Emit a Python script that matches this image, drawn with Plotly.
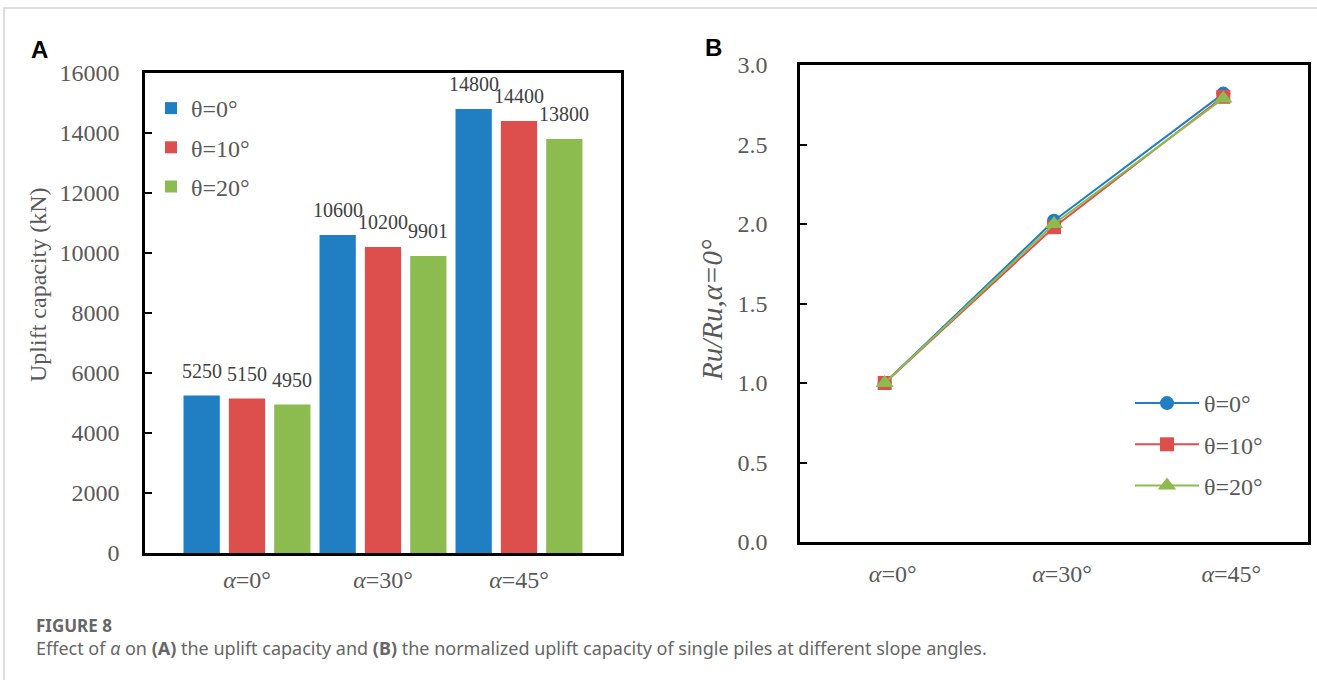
import plotly.graph_objects as go

# ---------------- data ----------------
categories = ["α=0°", "α=30°", "α=45°"]
tick_text = ["<i>α</i>=0°", "<i>α</i>=30°", "<i>α</i>=45°"]
series_names = ["θ=0°", "θ=10°", "θ=20°"]
uplift_theta0 = [5250, 10600, 14800]
uplift_theta10 = [5150, 10200, 14400]
uplift_theta20 = [4950, 9901, 13800]
ratio_theta0 = [1.0, 2.02, 2.82]
ratio_theta10 = [1.0, 1.98, 2.80]
ratio_theta20 = [1.0, 2.00, 2.79]
y_ticks_a = [0, 2000, 4000, 6000, 8000, 10000, 12000, 14000, 16000]
y_ticklabels_a = ["0", "2000", "4000", "6000", "8000", "10000", "12000", "14000", "16000"]
y_ticks_b = [0.0, 0.5, 1.0, 1.5, 2.0, 2.5, 3.0]

# ---------------- style ----------------
colors = ["#1F7FC2", "#DC4F4C", "#8CBB50"]
symbols = ["circle", "square", "triangle-up"]
marker_sizes = [14, 14, 16]
serif = "Liberation Serif"
tick_color = "#595959"
W, H = 1317, 680

uplift = [uplift_theta0, uplift_theta10, uplift_theta20]
ratios = [ratio_theta0, ratio_theta10, ratio_theta20]

fig = go.Figure()

# Panel A bars
for j, (name, vals) in enumerate(zip(series_names, uplift)):
    fig.add_trace(go.Bar(
        x=categories, y=vals, name=name,
        marker=dict(color=colors[j], line=dict(width=0)),
        xaxis="x", yaxis="y", legend="legend", legendgroup=f"a{j}",
    ))

# Panel B lines
for j, (name, vals) in enumerate(zip(series_names, ratios)):
    fig.add_trace(go.Scatter(
        x=categories, y=vals, name=name, mode="lines+markers",
        line=dict(color=colors[j], width=2),
        marker=dict(symbol=symbols[j], size=marker_sizes[j], color=colors[j]),
        xaxis="x2", yaxis="y2", legend="legend2", legendgroup=f"b{j}",
    ))

# Bar value labels
slot_px = 136 / 3
for j, vals in enumerate(uplift):
    for i, v in enumerate(vals):
        fig.add_annotation(
            x=categories[i], y=v, xref="x", yref="y", text=str(v),
            showarrow=False, xanchor="center", yanchor="bottom",
            xshift=(j - 1) * slot_px, yshift=12,
            font=dict(family=serif, size=20, color="#404040"),
        )

axis_common = dict(showline=True, linecolor="black", linewidth=2.5, mirror=True,
                   showgrid=False, zeroline=False, automargin=False)

fig.update_layout(
    width=W, height=H,
    margin=dict(l=0, r=0, t=0, b=0, autoexpand=False),
    paper_bgcolor="white", plot_bgcolor="white",
    barmode="group", bargap=0, bargroupgap=0.2,
    font=dict(family=serif, color=tick_color, size=24),
    xaxis=dict(domain=[145 / W, 621 / W], anchor="y", type="category",
               range=[-0.75, 2.75], tickvals=categories, ticktext=tick_text,
               ticks="", ticklabelstandoff=3,
               tickfont=dict(family=serif, size=24, color=tick_color), **axis_common),
    yaxis=dict(domain=[1 - 553 / H, 1 - 73 / H], anchor="x", range=[0, 16000],
               tickvals=y_ticks_a, ticktext=y_ticklabels_a,
               ticks="inside", ticklen=7, tickwidth=2, tickcolor="black",
               ticklabelstandoff=18,
               tickfont=dict(family=serif, size=24, color=tick_color),
               **axis_common),
    xaxis2=dict(domain=[800 / W, 1308 / W], anchor="y2", type="category",
                range=[-0.5, 2.5], tickvals=categories, ticktext=tick_text,
                ticks="", ticklabelstandoff=8, ticklabelshift=8,
                tickfont=dict(family=serif, size=24, color=tick_color), **axis_common),
    yaxis2=dict(domain=[1 - 542 / H, 1 - 65 / H], anchor="x2", range=[0, 3],
                tickvals=y_ticks_b, tickformat=".1f", ticks="inside", ticklen=7,
                tickwidth=2, tickcolor="black", ticklabelstandoff=25,
                tickfont=dict(family=serif, size=24, color=tick_color),
                **axis_common),
    legend=dict(x=151 / W, y=1 - 86 / H, xanchor="left", yanchor="top",
                bgcolor="rgba(0,0,0,0)", borderwidth=0, traceorder="grouped",
                tracegroupgap=5, itemwidth=30,
                font=dict(family=serif, size=24, color=tick_color)),
    legend2=dict(x=1130 / W, y=1 - 381 / H, xanchor="left", yanchor="top",
                 bgcolor="rgba(0,0,0,0)", borderwidth=0, traceorder="grouped",
                 tracegroupgap=7, itemwidth=64,
                 font=dict(family=serif, size=24, color=tick_color)),
)

# Axis titles (as rotated text)
fig.add_annotation(text="Uplift capacity (kN)", x=38 / W, y=1 - 285 / H,
                   xref="paper", yref="paper", xanchor="center", yanchor="middle",
                   textangle=-90, showarrow=False,
                   font=dict(family=serif, size=24, color=tick_color))
fig.add_annotation(text="<i>Ru/Ru,α=0°</i>", x=712 / W, y=1 - 310 / H,
                   xref="paper", yref="paper", xanchor="center", yanchor="middle",
                   textangle=-90, showarrow=False,
                   font=dict(family=serif, size=29, color=tick_color))

# Panel letters
fig.add_annotation(text="<b>A</b>", x=29 / W, y=1 - 50 / H, xref="paper", yref="paper",
                   xanchor="left", yanchor="middle", showarrow=False,
                   font=dict(family="Liberation Sans", size=24, color="black"))
fig.add_annotation(text="<b>B</b>", x=703 / W, y=1 - 48 / H, xref="paper", yref="paper",
                   xanchor="left", yanchor="middle", showarrow=False,
                   font=dict(family="Liberation Sans", size=24, color="black"))

# Caption
fig.add_annotation(text="<b>FIGURE 8</b>", x=35 / W, y=1 - 625 / H, xref="paper", yref="paper",
                   xanchor="left", yanchor="middle", showarrow=False, borderpad=0,
                   font=dict(family="Noto Sans", size=17, color="#666666"))
fig.add_annotation(
    text="Effect of <i>α</i> on <b>(A)</b> the uplift capacity and <b>(B)</b> the normalized "
         "uplift capacity of single piles at different slope angles.",
    x=35 / W, y=1 - 648 / H, xref="paper", yref="paper",
    xanchor="left", yanchor="middle", showarrow=False, borderpad=0,
    font=dict(family="Noto Sans", size=18, color="#666666"))

# Page frame
fig.add_shape(type="rect", xref="paper", yref="paper",
              x0=4 / W, x1=1.05, y0=-0.05, y1=1 - 8 / H,
              line=dict(color="#d4d4d4", width=1.5), fillcolor="rgba(0,0,0,0)", layer="below")

fig.write_html("out.html", config={"displayModeBar": False},
               post_script="document.body.style.margin='0';")
